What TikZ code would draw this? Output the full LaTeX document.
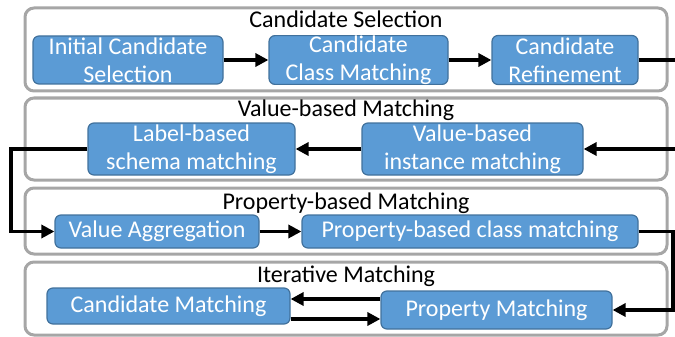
\documentclass[tikz,border=0pt]{standalone}
\usepackage{fontspec}
\setmainfont{Carlito}
\usetikzlibrary{positioning, calc}
\usetikzlibrary{arrows.meta}
\definecolor{boxblue}{HTML}{5B9BD5}
\definecolor{boxline}{HTML}{41719C}
\definecolor{framegray}{HTML}{A6A6A6}

\begin{document}
\begin{tikzpicture}[x=1pt,y=-1pt,>={Triangle[length=13pt,width=13pt]},line width=3.5pt,
  stage/.style={draw=framegray,line width=3pt,rounded corners=9pt},
  title/.style={anchor=base,font=\fontsize{24}{28}\selectfont},
  task/.style={draw=boxline,fill=boxblue,line width=1.2pt,rounded corners=6pt,
    text=white,align=center,inner sep=0pt,font=\fontsize{24}{28}\selectfont}]

\useasboundingbox (0,0) rectangle (675,337);

% stage frames
\draw[stage] (25,8) rectangle (667,91);
\draw[stage] (25,98) rectangle (667,180);
\draw[stage] (25,188) rectangle (667,254);
\draw[stage] (25,262) rectangle (667,335);

\node[title] (T1) at (346,28) {Candidate Selection};
\node[title] (T2) at (346,117) {Value-based Matching};
\node[title] (T3) at (346,209) {Property-based Matching};
\node[title] (T4) at (346,282) {Iterative Matching};

% tasks
\node[task,minimum width=190pt,minimum height=48pt] (ICS) at (128,60) {Initial Candidate\\Selection};
\node[task,minimum width=179pt,minimum height=48pt] (CCM) at (358.5,60) {Candidate\\Class Matching};
\node[task,minimum width=146pt,minimum height=49pt] (CR) at (565,60) {Candidate\\Refinement};

\node[task,minimum width=207pt,minimum height=52pt] (LSM) at (191.5,149) {Label-based\\schema matching};
\node[task,minimum width=221pt,minimum height=52pt] (VIM) at (472.5,149) {Value-based\\instance matching};

\node[task,minimum width=204pt,minimum height=33pt] (VA) at (157,231.5) {Value Aggregation};
\node[task,minimum width=336pt,minimum height=33pt] (PCM) at (470,231.5) {Property-based class matching};

\node[task,minimum width=243pt,minimum height=36pt] (CM) at (168.5,306) {Candidate Matching};
\node[task,minimum width=231pt,minimum height=38pt] (PM) at (496.5,310) {Property Matching};

\coordinate (rgt) at (677,0);
\coordinate (lft) at (11,0);
\coordinate (rgtb) at (673,0);
\coordinate (up) at ([yshift=11pt]PM.west);
\coordinate (dn) at ([yshift=-13pt]CM.east);

\path[->]
  (ICS) edge (CCM)
  (CCM) edge (CR)
  (VIM) edge (LSM)
  (VA) edge (PCM);
\draw[->] (CR.east) -- (rgt |- CR.east) -- (rgt |- VIM.east) -- (VIM.east);
\draw[->] (LSM.west) -- (lft |- LSM.west) -- (lft |- VA.west) -- (VA.west);
\draw[->] (PCM.east) -- (rgtb |- PCM.east) -- (rgtb |- PM.east) -- (PM.east);
\draw[->] (up) -- (up -| CM.east);
\draw[->] (dn) -- (dn -| PM.west);
\end{tikzpicture}
\end{document}
